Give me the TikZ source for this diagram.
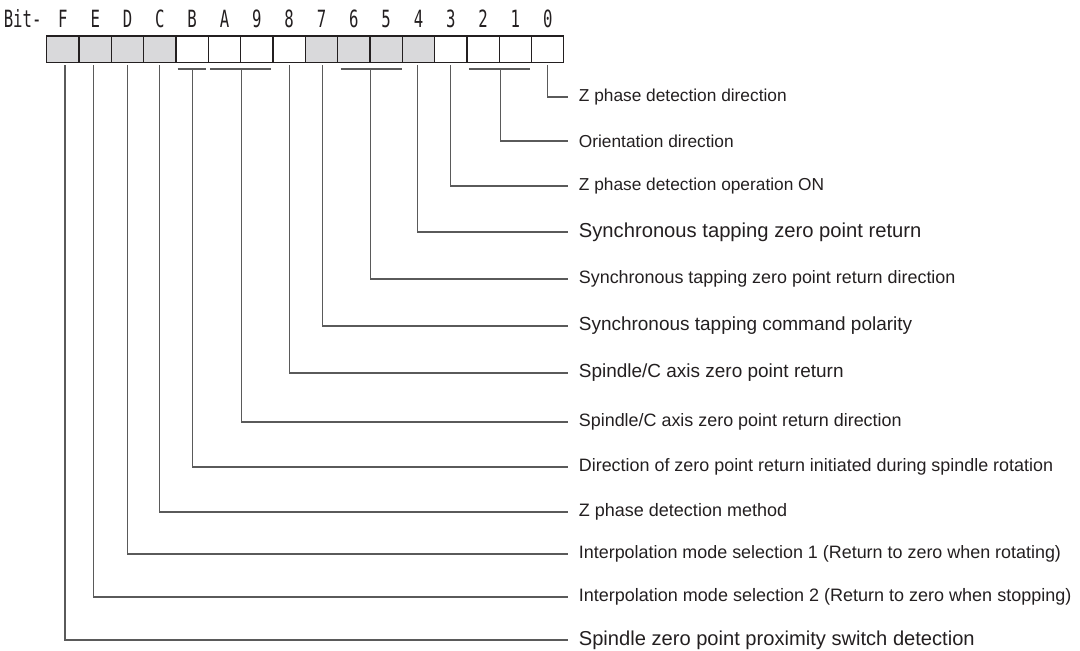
\documentclass[tikz,border=0pt]{standalone}
\usepackage{fontspec}
\setmainfont{Liberation Sans}
\newfontfamily\bitfont[FakeStretch=0.66]{DejaVu Sans Mono}
\usepackage{xcolor}
\definecolor{cgray}{RGB}{217,217,219}
\definecolor{lgray}{RGB}{90,90,90}
\definecolor{tblack}{RGB}{35,31,32}
\usetikzlibrary{positioning,calc}
\newcommand{\fs}[1]{\fontsize{#1}{#1}\selectfont}

\begin{document}
\begin{tikzpicture}[
  x=0.02cm,y=-0.02cm,
  cellw/.style={rectangle,draw=tblack,line width=0.65pt,fill=white,minimum width=0.6466cm,minimum height=0.534cm,inner sep=0pt,outer sep=0pt},
  cellg/.style={cellw,fill=cgray},
  bitlbl/.style={font=\bitfont\fs{13.5pt},text=tblack,inner sep=0pt},
  desc/.style={anchor=west,inner xsep=6pt,inner ysep=0pt,text=tblack,font=\fs{10.25pt}},
  conn/.style={draw=lgray,line width=0.7pt},
  bar/.style={draw=lgray,line width=0.9pt}
]
  \useasboundingbox (0,0) rectangle (1080,651);

  % === Register cells ===
  \node[cellg] (cF) at (62.9,49.4) {};
  \node[cellg,right=0pt of cF] (cE) {};
  \node[cellg,right=0pt of cE] (cD) {};
  \node[cellg,right=0pt of cD] (cC) {};
  \node[cellw,right=0pt of cC] (cB) {};
  \node[cellw,right=0pt of cB] (cA) {};
  \node[cellw,right=0pt of cA] (c9) {};
  \node[cellw,right=0pt of c9] (c8) {};
  \node[cellg,right=0pt of c8] (c7) {};
  \node[cellg,right=0pt of c7] (c6) {};
  \node[cellg,right=0pt of c6] (c5) {};
  \node[cellg,right=0pt of c5] (c4) {};
  \node[cellw,right=0pt of c4] (c3) {};
  \node[cellw,right=0pt of c3] (c2) {};
  \node[cellw,right=0pt of c2] (c1) {};
  \node[cellw,right=0pt of c1] (c0) {};

  % === Bit numbers ===
  \node[bitlbl,above=0.16cm of cF] (tF) {F};
  \node[bitlbl,above=0.16cm of cE] (tE) {E};
  \node[bitlbl,above=0.16cm of cD] (tD) {D};
  \node[bitlbl,above=0.16cm of cC] (tC) {C};
  \node[bitlbl,above=0.16cm of cB] (tB) {B};
  \node[bitlbl,above=0.16cm of cA] (tA) {A};
  \node[bitlbl,above=0.16cm of c9] (t9) {9};
  \node[bitlbl,above=0.16cm of c8] (t8) {8};
  \node[bitlbl,above=0.16cm of c7] (t7) {7};
  \node[bitlbl,above=0.16cm of c6] (t6) {6};
  \node[bitlbl,above=0.16cm of c5] (t5) {5};
  \node[bitlbl,above=0.16cm of c4] (t4) {4};
  \node[bitlbl,above=0.16cm of c3] (t3) {3};
  \node[bitlbl,above=0.16cm of c2] (t2) {2};
  \node[bitlbl,above=0.16cm of c1] (t1) {1};
  \node[bitlbl,above=0.16cm of c0] (t0) {0};
  \node[bitlbl,base left=0.32cm of tF] (tbit) {Bit-};

  % === Descriptions ===
  \node[desc,font=\fs{9.85pt}] (d0) at (568,97) {Z phase detection direction};
  \node[desc,font=\fs{9.85pt}] (d21) at (568,141) {Orientation direction};
  \node[desc,font=\fs{9.85pt}] (d3) at (568,186) {Z phase detection operation ON};
  \node[desc,font=\fs{11.5pt}] (d4) at (568,232) {Synchronous tapping zero point return};
  \node[desc,font=\fs{10.2pt}] (d65) at (568,279) {Synchronous tapping zero point return direction};
  \node[desc,font=\fs{10.8pt}] (d7) at (568,326) {Synchronous tapping command polarity};
  \node[desc,font=\fs{10.8pt}] (d8) at (568,373) {Spindle/C axis zero point return};
  \node[desc,font=\fs{10.2pt}] (dA9) at (568,422) {Spindle/C axis zero point return direction};
  \node[desc,font=\fs{10.2pt}] (dB) at (568,467) {Direction of zero point return initiated during spindle rotation};
  \node[desc] (dC) at (568,512) {Z phase detection method};
  \node[desc,font=\fs{10.2pt}] (dD) at (568,554) {Interpolation mode selection 1 (Return to zero when rotating)};
  \node[desc] (dE) at (568,597) {Interpolation mode selection 2 (Return to zero when stopping)};
  \node[desc,font=\fs{11.45pt}] (dF) at (568,640) {Spindle zero point proximity switch detection};

  % Group bars under multi-bit fields
  \draw[bar] ($(cB.south west)+(1.5,6.3)$) -- ($(cB.south east)+(-2.5,6.3)$);
  \draw[bar] ($(cA.south west)+(2,6.3)$) -- ($(c9.south east)+(-2,6.3)$);
  \draw[bar] ($(c6.south west)+(3,6.3)$) -- ($(c5.south east)+(0,6.3)$);
  \draw[bar] ($(c2.south west)+(2,6.3)$) -- ($(c1.south east)+(-2,6.3)$);
  \coordinate (gB) at ($(cB.south)+(0,6.3)$);
  \coordinate (gA9) at ($(cA.south east)+(1,6.3)$);
  \coordinate (g65) at ($(c6.south east)+(0.5,6.3)$);
  \coordinate (g21) at ($(c2.south east)+(1,6.3)$);

  % Leader lines
  \draw[conn] ($(c0.south)+(0,2.5)$) |- (d0.west);
  \draw[conn] (g21) |- (d21.west);
  \draw[conn] ($(c3.south)+(0,2.5)$) |- (d3.west);
  \draw[conn] ($(c4.south)+(-1,2.5)$) |- (d4.west);
  \draw[conn] (g65) |- (d65.west);
  \draw[conn] ($(c7.south)+(1,2.5)$) |- (d7.west);
  \draw[conn] ($(c8.south)+(0,2.5)$) |- (d8.west);
  \draw[conn] (gA9) |- (dA9.west);
  \draw[conn] (gB) |- (dB.west);
  \draw[conn] ($(cC.south)+(0,2.5)$) |- (dC.west);
  \draw[conn] ($(cD.south)+(0,2.5)$) |- (dD.west);
  \draw[conn] ($(cE.south)+(-2,2.5)$) |- (dE.west);
  \draw[conn] ($(cF.south)+(2,2.5)$) |- (dF.west);
\end{tikzpicture}
\end{document}
